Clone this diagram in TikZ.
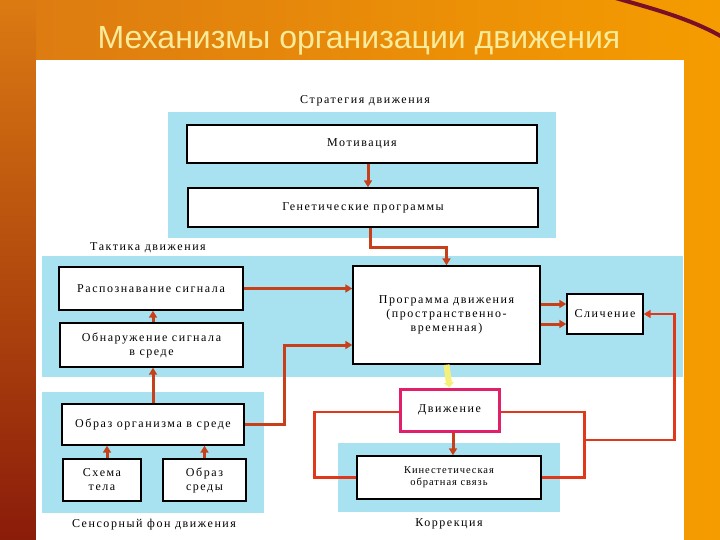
\documentclass[tikz,border=0pt]{standalone}
\usepackage{fontspec}
\setmainfont{Liberation Serif}
\newfontfamily\boxfont{Liberation Serif}[LetterSpace=13]
\newfontfamily\smallboxfont{Liberation Serif}[LetterSpace=9]
\newfontfamily\titlefont{Liberation Sans}
\usetikzlibrary{arrows.meta,calc}
\definecolor{panelblue}{HTML}{A8E2F0}
\definecolor{arrowred}{HTML}{C8401A}
\definecolor{linered}{HTML}{E0381A}
\definecolor{pinkborder}{HTML}{E0206A}
\definecolor{paleyellow}{HTML}{F4F07A}
\definecolor{bgleft}{HTML}{DC7A12}
\definecolor{bgright}{HTML}{F59C00}
\definecolor{bgdark}{HTML}{8A1C0A}
\definecolor{maroon}{HTML}{7A1028}
\definecolor{titleyellow}{HTML}{FAEB9A}
\begin{document}
\begin{tikzpicture}[x=1pt,y=-1pt,
  box/.style={draw=black, line width=1.4pt, fill=white, align=center, inner sep=1pt,
    font={\boxfont\fontsize{12}{14}\selectfont}, text=black},
  lbl/.style={font={\boxfont\fontsize{12}{14}\selectfont}, text=black},
  arr/.style={draw=arrowred, line width=3pt, -{Triangle[length=7pt,width=8pt]}},
  con/.style={draw=linered, line width=2.2pt},
  panel/.style={fill=panelblue}]
\useasboundingbox (0,0) rectangle (720,540);
% background
\shade[left color=bgleft, right color=bgright] (0,0) rectangle (720,540);
\shade[top color=bgleft, bottom color=bgdark] (0,0) rectangle (36,540);
\draw[maroon, line width=4pt] (612,-3) .. controls (650,8) and (690,18) .. (724,38);
% title
\node[font={\titlefont\fontsize{32}{32}\selectfont}, text=titleyellow] (title) at (359,41) {Механизмы организации движения};
% white sheet
\fill[white] (36,60) rectangle (684,540);
% panels
\fill[panel] (168,112) rectangle (556,238);
\fill[panel] (42,256) rectangle (683,377);
\fill[panel] (42,392) rectangle (264,513);
\fill[panel] (338,443) rectangle (560,512);
% labels
\node[lbl] (lstrat) at (365,101) {Стратегия движения};
\node[lbl] (ltact) at (148,248) {Тактика движения};
\node[lbl] (lsens) at (154,525) {Сенсорный фон движения};
\node[lbl] (lcorr) at (449,524) {Коррекция};
% boxes
\node[box, minimum width=350pt, minimum height=38pt] (motiv) at (362,144) {Мотивация};
\node[box, minimum width=350pt, minimum height=39pt] (genet) at (363,207.5) {Генетические программы};
\node[box, minimum width=187pt, minimum height=98pt] (prog) at (446.5,315) {Программа движения\\(пространственно-\\временная)};
\node[box, minimum width=76pt, minimum height=40pt] (slich) at (605,314) {Сличение};
\node[box, minimum width=184pt, minimum height=43pt] (rasp) at (151,288.5) {Распознавание сигнала};
\node[box, minimum width=183pt, minimum height=44pt] (obnar) at (151.5,345) {Обнаружение сигнала\\в среде};
\node[box, minimum width=182pt, minimum height=41pt] (obraz) at (153,424.5) {Образ организма в среде};
\node[box, minimum width=78pt, minimum height=42pt] (schema) at (102,480) {Схема\\тела};
\node[box, minimum width=83pt, minimum height=42pt] (sreda) at (204.5,480) {Образ\\среды};
\node[box, draw=pinkborder, line width=3pt, minimum width=99pt, minimum height=42pt] (dvizh) at (449.5,410) {Движение};
\node[box, minimum width=184pt, minimum height=43pt, font={\smallboxfont\fontsize{10.5}{12}\selectfont}] (kines) at (449,477.5) {Кинестетическая\\обратная связь};
% helper points
\coordinate (m1) at ($(motiv.south)+(6,0)$);
\coordinate (g1) at ($(genet.south)+(7,0)$);
\coordinate (o1) at ($(obnar.north)+(1.5,0)$);
\coordinate (s1) at ($(schema.north)+(5,0)$);
\coordinate (p1) at ($(prog.east)+(0,-11)$);
\coordinate (p2) at ($(prog.east)+(0,9)$);
\coordinate (p3) at ($(prog.west)+(0,30)$);
\coordinate (d1) at ($(dvizh.south)+(3.5,0)$);
\coordinate (dw) at ($(dvizh.west)+(0,2)$);
\coordinate (de) at ($(dvizh.east)+(0,2)$);
% connectors
\draw[arr] (m1) -- (m1 |- genet.north);
\draw[arr] (g1) -- ++(0,20) -| (prog.north);
\draw[arr] (rasp.east) -- (rasp.east -| prog.west);
\draw[arr] (o1) -- (o1 |- rasp.south);
\draw[arr] (obraz.north) -- (obraz.north |- obnar.south);
\draw[arr] (obraz.east) -- ++(40,0) |- (p3);
\draw[arr] (s1) -- (s1 |- obraz.south);
\draw[arr] (sreda.north) -- (sreda.north |- obraz.south);
\draw[arr] (p1) -- (p1 -| slich.west);
\draw[arr] (p2) -- (p2 -| slich.west);
\draw[draw=paleyellow, line width=6pt, -{Triangle[length=5pt,width=10pt]}] (prog.south) -- (dvizh.north);
\draw[arr] (d1) -- (d1 |- kines.north);
\draw[con] (dw) -- ++(-84,0) |- (kines.west);
\draw[con] (de) -- ++(84,0) coordinate (rtop) |- (kines.east);
\coordinate (junc) at ($(rtop)+(0,28)$);
\draw[con, -{Triangle[length=7pt,width=8pt]}] (junc) -- ++(90,0) |- (slich.east);
\end{tikzpicture}
\end{document}
